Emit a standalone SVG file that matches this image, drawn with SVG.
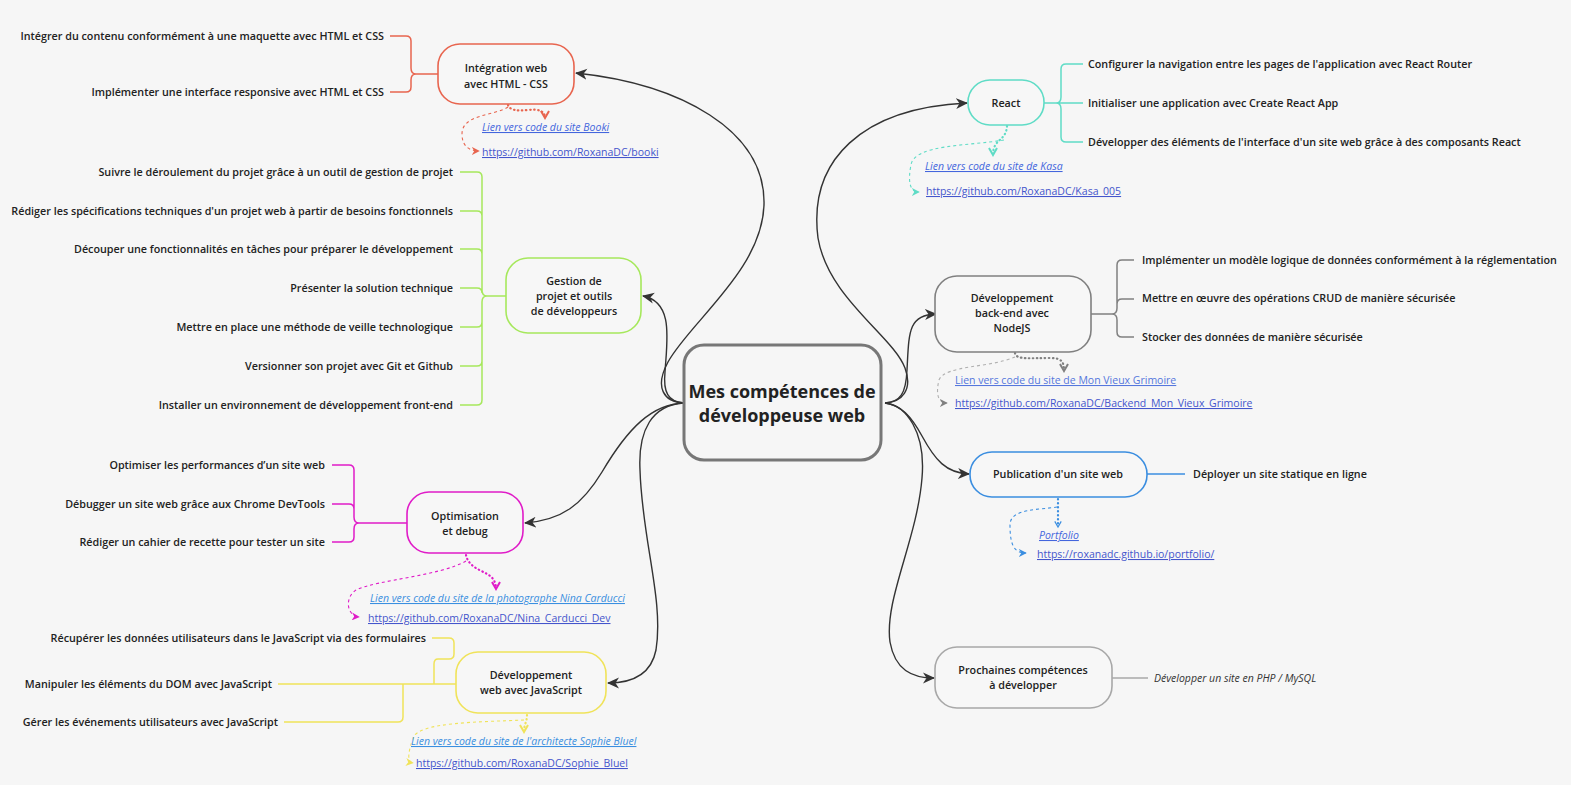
<svg xmlns="http://www.w3.org/2000/svg" width="1571" height="785" viewBox="0 0 1571 785">
<style>
text{font-family:"Open Sans","DejaVu Sans",sans-serif;fill:#222}
.leaf{font-size:10.75px;font-weight:600}
.lr{text-anchor:end}
.nt{font-size:10.75px;font-weight:600;text-anchor:middle}
.title{font-size:18px;font-weight:700;text-anchor:middle}
.box{fill:#f7f7f7;stroke-width:1.6}
.br{fill:none;stroke-width:1.5}
.main{fill:none;stroke:#333;stroke-width:1.4}
.dot{fill:none;stroke-width:2.2;stroke-dasharray:0.5 3.5;stroke-linecap:round}
.dash{fill:none;stroke-width:1.1;stroke-dasharray:3 3}
.lnk{font-size:10.5px;text-decoration:underline}
.it{font-style:italic}
</style>
<defs>
<marker id="arr" viewBox="0 0 12 12" refX="11" refY="6" markerWidth="12" markerHeight="12" markerUnits="userSpaceOnUse" orient="auto"><path d="M0,0.5 L12,6 L0,11.5 L3.5,6 z" fill="#333"/></marker>
<marker id="vR" viewBox="0 0 10 10" refX="8" refY="5" markerWidth="10" markerHeight="10" markerUnits="userSpaceOnUse" orient="auto"><path d="M1,1 L8,5 L1,9" fill="none" stroke="#e8654f" stroke-width="2"/></marker>
<marker id="vT" viewBox="0 0 10 10" refX="8" refY="5" markerWidth="10" markerHeight="10" markerUnits="userSpaceOnUse" orient="auto"><path d="M1,1 L8,5 L1,9" fill="none" stroke="#5fdcc6" stroke-width="2"/></marker>
<marker id="vG" viewBox="0 0 10 10" refX="8" refY="5" markerWidth="10" markerHeight="10" markerUnits="userSpaceOnUse" orient="auto"><path d="M1,1 L8,5 L1,9" fill="none" stroke="#808080" stroke-width="2"/></marker>
<marker id="vB" viewBox="0 0 10 10" refX="8" refY="5" markerWidth="8" markerHeight="8" markerUnits="userSpaceOnUse" orient="auto"><path d="M1,1 L8,5 L1,9" fill="none" stroke="#3b8ee0" stroke-width="1.5"/></marker>
<marker id="vM" viewBox="0 0 10 10" refX="8" refY="5" markerWidth="10" markerHeight="10" markerUnits="userSpaceOnUse" orient="auto"><path d="M1,1 L8,5 L1,9" fill="none" stroke="#e01cc8" stroke-width="2"/></marker>
<marker id="vY" viewBox="0 0 10 10" refX="8" refY="5" markerWidth="10" markerHeight="10" markerUnits="userSpaceOnUse" orient="auto"><path d="M1,1 L8,5 L1,9" fill="none" stroke="#f0e35a" stroke-width="2"/></marker>
<marker id="tR" viewBox="0 0 10 10" refX="9" refY="5" markerWidth="8" markerHeight="8" markerUnits="userSpaceOnUse" orient="auto"><path d="M0,0 L10,5 L0,10 L3,5 z" fill="#e8654f"/></marker>
<marker id="tT" viewBox="0 0 10 10" refX="9" refY="5" markerWidth="8" markerHeight="8" markerUnits="userSpaceOnUse" orient="auto"><path d="M0,0 L10,5 L0,10 L3,5 z" fill="#5fdcc6"/></marker>
<marker id="tG" viewBox="0 0 10 10" refX="9" refY="5" markerWidth="8" markerHeight="8" markerUnits="userSpaceOnUse" orient="auto"><path d="M0,0 L10,5 L0,10 L3,5 z" fill="#808080"/></marker>
<marker id="tB" viewBox="0 0 10 10" refX="9" refY="5" markerWidth="8" markerHeight="8" markerUnits="userSpaceOnUse" orient="auto"><path d="M0,0 L10,5 L0,10 L3,5 z" fill="#3b8ee0"/></marker>
<marker id="tM" viewBox="0 0 10 10" refX="9" refY="5" markerWidth="8" markerHeight="8" markerUnits="userSpaceOnUse" orient="auto"><path d="M0,0 L10,5 L0,10 L3,5 z" fill="#e01cc8"/></marker>
<marker id="tY" viewBox="0 0 10 10" refX="9" refY="5" markerWidth="8" markerHeight="8" markerUnits="userSpaceOnUse" orient="auto"><path d="M0,0 L10,5 L0,10 L3,5 z" fill="#f0e35a"/></marker>
</defs>
<rect width="1571" height="785" fill="#f6f6f6"/>

<g id="connectors">
<path class="main" marker-end="url(#arr)" d="M684,403 C664,402 654,388 668,362 C690,322 762,270 764,205 C766,130 680,84 576,73"/>
<path class="main" marker-end="url(#arr)" d="M684,403 C668,402 663,392 665,372 C667,340 674,302 643,296"/>
<path class="main" marker-end="url(#arr)" d="M684,403 C652,404 628,428 602,472 C582,505 562,520 525,523"/>
<path class="main" marker-end="url(#arr)" d="M684,403 C652,405 638,430 640,470 C642,540 664,600 656,650 C651,675 632,683 608,683"/>
<path class="main" marker-end="url(#arr)" d="M885,403 C902,402 913,390 905,368 C893,336 828,298 818,238 C808,160 862,108 967,103"/>
<path class="main" marker-end="url(#arr)" d="M885,403 C900,402 906,394 907,370 C909,332 908,315 936,314"/>
<path class="main" marker-end="url(#arr)" d="M885,403 C901,405 911,416 922,436 C935,460 946,473 969,474"/>
<path class="main" marker-end="url(#arr)" d="M885,403 C906,405 926,432 922,478 C917,540 884,600 890,642 C895,670 912,678 934,678"/>
</g>

<g id="center">
<rect x="684" y="345" width="197" height="115" rx="20" fill="#f6f6f6" stroke="#777" stroke-width="3"/>
<text class="title" x="782" y="398">Mes compétences de</text>
<text class="title" x="782" y="422">développeuse web</text>
</g>

<g id="integration">
<path class="br" stroke="#e8654f" d="M390,36 H406 Q411,36 411,41 V68 Q411,74 416,74 M390,92 H406 Q411,92 411,87 V80 Q411,74 416,74 M414,74 H438"/>
<rect class="box" x="438" y="44" width="136" height="60" rx="22" stroke="#e8654f"/>
<text class="nt" x="506" y="72">Intégration web</text>
<text class="nt" x="506" y="88">avec HTML - CSS</text>
<text class="leaf lr" x="384" y="40">Intégrer du contenu conformément à une maquette avec HTML et CSS</text>
<text class="leaf lr" x="384" y="96">Implémenter une interface responsive avec HTML et CSS</text>
<path class="dot" stroke="#e8654f" marker-end="url(#vR)" d="M508,105 Q510,112 528,110 Q545,108 545,118"/>
<path class="dash" stroke="#e8654f" marker-end="url(#tR)" d="M508,107 C494,116 462,114 462,134 C462,146 469,151 479,151"/>
<text class="lnk it" x="482" y="131" style="fill:#4466dd">Lien vers code du site Booki</text>
<text class="lnk" x="482" y="156" style="fill:#4455cc">https://github.com/RoxanaDC/booki</text>
</g>

<g id="gestion">
<path class="br" stroke="#a6e85c" d="M460,172 H477 Q482,172 482,177 V290 Q482,296 487,296 M460,405 H477 Q482,405 482,400 V302 Q482,296 487,296 M460,211 H477 Q482,211 482,216 M460,249 H477 Q482,249 482,254 M460,288 H477 Q482,288 482,293 M460,327 H477 Q482,327 482,322 M460,366 H477 Q482,366 482,361 M485,296 H506"/>
<rect class="box" x="506" y="258" width="135" height="75" rx="22" stroke="#a6e85c"/>
<text class="nt" x="574" y="285">Gestion de</text>
<text class="nt" x="574" y="300">projet et outils</text>
<text class="nt" x="574" y="315">de développeurs</text>
<text class="leaf lr" x="453" y="176">Suivre le déroulement du projet grâce à un outil de gestion de projet</text>
<text class="leaf lr" x="453" y="215">Rédiger les spécifications techniques d'un projet web à partir de besoins fonctionnels</text>
<text class="leaf lr" x="453" y="253">Découper une fonctionnalités en tâches pour préparer le développement</text>
<text class="leaf lr" x="453" y="292">Présenter la solution technique</text>
<text class="leaf lr" x="453" y="331">Mettre en place une méthode de veille technologique</text>
<text class="leaf lr" x="453" y="370">Versionner son projet avec Git et Github</text>
<text class="leaf lr" x="453" y="409">Installer un environnement de développement front-end</text>
</g>

<g id="optimisation">
<path class="br" stroke="#e01cc8" d="M332,465 H349 Q354,465 354,470 V517 Q354,523 359,523 M332,542 H349 Q354,542 354,537 V529 Q354,523 359,523 M332,504 H349 Q354,504 354,509 M357,523 H407"/>
<rect class="box" x="407" y="492" width="116" height="61" rx="22" stroke="#e01cc8"/>
<text class="nt" x="465" y="520">Optimisation</text>
<text class="nt" x="465" y="535">et debug</text>
<text class="leaf lr" x="325" y="469">Optimiser les performances d’un site web</text>
<text class="leaf lr" x="325" y="508">Débugger un site web grâce aux Chrome DevTools</text>
<text class="leaf lr" x="325" y="546">Rédiger un cahier de recette pour tester un site</text>
<path class="dot" stroke="#e01cc8" marker-end="url(#vM)" d="M466,555 C469,570 488,571 493,579 Q496,583 496,589"/>
<path class="dash" stroke="#e01cc8" marker-end="url(#tM)" d="M466,561 C440,576 376,580 356,590 C344,598 347,616 359,617"/>
<text class="lnk it" x="370" y="602" style="fill:#3a8fe0">Lien vers code du site de la photographe Nina Carducci</text>
<text class="lnk" x="368" y="622" style="fill:#4455cc">https://github.com/RoxanaDC/Nina_Carducci_Dev</text>
</g>

<g id="javascript">
<path class="br" stroke="#f0e35a" d="M432,638 H449 Q454,638 454,643 V654 Q454,659 449,659 H438 Q434,659 434,664 V684 M278,684 H456 M284,722 H398 Q403,722 403,717 V684"/>
<rect class="box" x="456" y="652" width="150" height="61" rx="22" stroke="#f0e35a"/>
<text class="nt" x="531" y="679">Développement</text>
<text class="nt" x="531" y="694">web avec JavaScript</text>
<text class="leaf lr" x="426" y="642">Récupérer les données utilisateurs dans le JavaScript via des formulaires</text>
<text class="leaf lr" x="272" y="688">Manipuler les éléments du DOM avec JavaScript</text>
<text class="leaf lr" x="278" y="726">Gérer les événements utilisateurs avec JavaScript</text>
<path class="dot" stroke="#f0e35a" marker-end="url(#vY)" d="M527,715 C527,722 524,724 524,732"/>
<path class="dash" stroke="#f0e35a" marker-end="url(#tY)" d="M524,720 C480,722 418,722 413,738 C409,750 406,762 413,763"/>
<text class="lnk it" x="411" y="745" style="fill:#3a8fe0">Lien vers code du site de l'architecte Sophie Bluel</text>
<text class="lnk" x="416" y="767" style="fill:#4455cc">https://github.com/RoxanaDC/Sophie_Bluel</text>
</g>

<g id="react">
<path class="br" stroke="#5fdcc6" d="M1083,64 H1066 Q1061,64 1061,69 V97 Q1061,103 1056,103 M1083,142 H1066 Q1061,142 1061,137 V109 Q1061,103 1056,103 M1044,103 H1083"/>
<rect class="box" x="968" y="80" width="76" height="45" rx="22" stroke="#5fdcc6"/>
<text class="nt" x="1006" y="107">React</text>
<text class="leaf" x="1088" y="68">Configurer la navigation entre les pages de l'application avec React Router</text>
<text class="leaf" x="1088" y="107">Initialiser une application avec Create React App</text>
<text class="leaf" x="1088" y="146">Développer des éléments de l'interface d'un site web grâce à des composants React</text>
<path class="dot" stroke="#5fdcc6" marker-end="url(#vT)" d="M1007,126 C1006,142 993,138 993,155"/>
<path class="dash" stroke="#5fdcc6" marker-end="url(#tT)" d="M1004,140 C970,146 914,144 911,165 C908,180 909,192 919,192"/>
<text class="lnk it" x="925" y="170" style="fill:#4466dd">Lien vers code du site de Kasa</text>
<text class="lnk" x="926" y="195" style="fill:#4455cc">https://github.com/RoxanaDC/Kasa_005</text>
</g>

<g id="backend">
<path class="br" stroke="#808080" d="M1134,260 H1122 Q1117,260 1117,265 V308 Q1117,314 1112,314 M1134,337 H1122 Q1117,337 1117,332 V320 Q1117,314 1112,314 M1134,299 H1122 Q1117,299 1117,304 M1091,314 H1114"/>
<rect class="box" x="935" y="276" width="156" height="76" rx="22" stroke="#808080"/>
<text class="nt" x="1012" y="302">Développement</text>
<text class="nt" x="1012" y="317">back-end avec</text>
<text class="nt" x="1012" y="332">NodeJS</text>
<text class="leaf" x="1142" y="264">Implémenter un modèle logique de données conformément à la réglementation</text>
<text class="leaf" x="1142" y="302">Mettre en œuvre des opérations CRUD de manière sécurisée</text>
<text class="leaf" x="1142" y="341">Stocker des données de manière sécurisée</text>
<path class="dot" stroke="#808080" marker-end="url(#vG)" d="M1015,353 C1016,360 1030,358 1050,358 C1062,358 1064,362 1064,371"/>
<path class="dash" stroke="#b0b0b0" marker-end="url(#tG)" d="M1015,357 C990,368 945,365 939,380 C936,392 937,403 947,403"/>
<text class="lnk" x="955" y="384" style="fill:#5577dd">Lien vers code du site de Mon Vieux Grimoire</text>
<text class="lnk" x="955" y="407" style="fill:#4455cc">https://github.com/RoxanaDC/Backend_Mon_Vieux_Grimoire</text>
</g>

<g id="publication">
<path class="br" stroke="#3b8ee0" d="M1147,474 H1185"/>
<rect class="box" x="970" y="452" width="177" height="45" rx="22" stroke="#3b8ee0"/>
<text class="nt" x="1058" y="478">Publication d'un site web</text>
<text class="leaf" x="1193" y="478">Déployer un site statique en ligne</text>
<path class="dot" stroke="#3b8ee0" marker-end="url(#vB)" d="M1058,499 V527"/>
<path class="dash" stroke="#3b8ee0" marker-end="url(#tB)" d="M1057,507 C1040,510 1010,508 1010,525 C1010,545 1014,553 1026,553"/>
<text class="lnk it" x="1039" y="539" style="fill:#4466dd">Portfolio</text>
<text class="lnk" x="1037" y="558" style="fill:#4455cc">https://roxanadc.github.io/portfolio/</text>
</g>

<g id="prochaines">
<path class="br" stroke="#a8a8a8" d="M1112,678 H1148"/>
<rect class="box" x="935" y="647" width="177" height="61" rx="22" stroke="#a8a8a8"/>
<text class="nt" x="1023" y="674">Prochaines compétences</text>
<text class="nt" x="1023" y="689">à développer</text>
<text x="1154" y="682" style="font-size:10.5px;font-style:italic;fill:#333">Développer un site en PHP / MySQL</text>
</g>
</svg>
